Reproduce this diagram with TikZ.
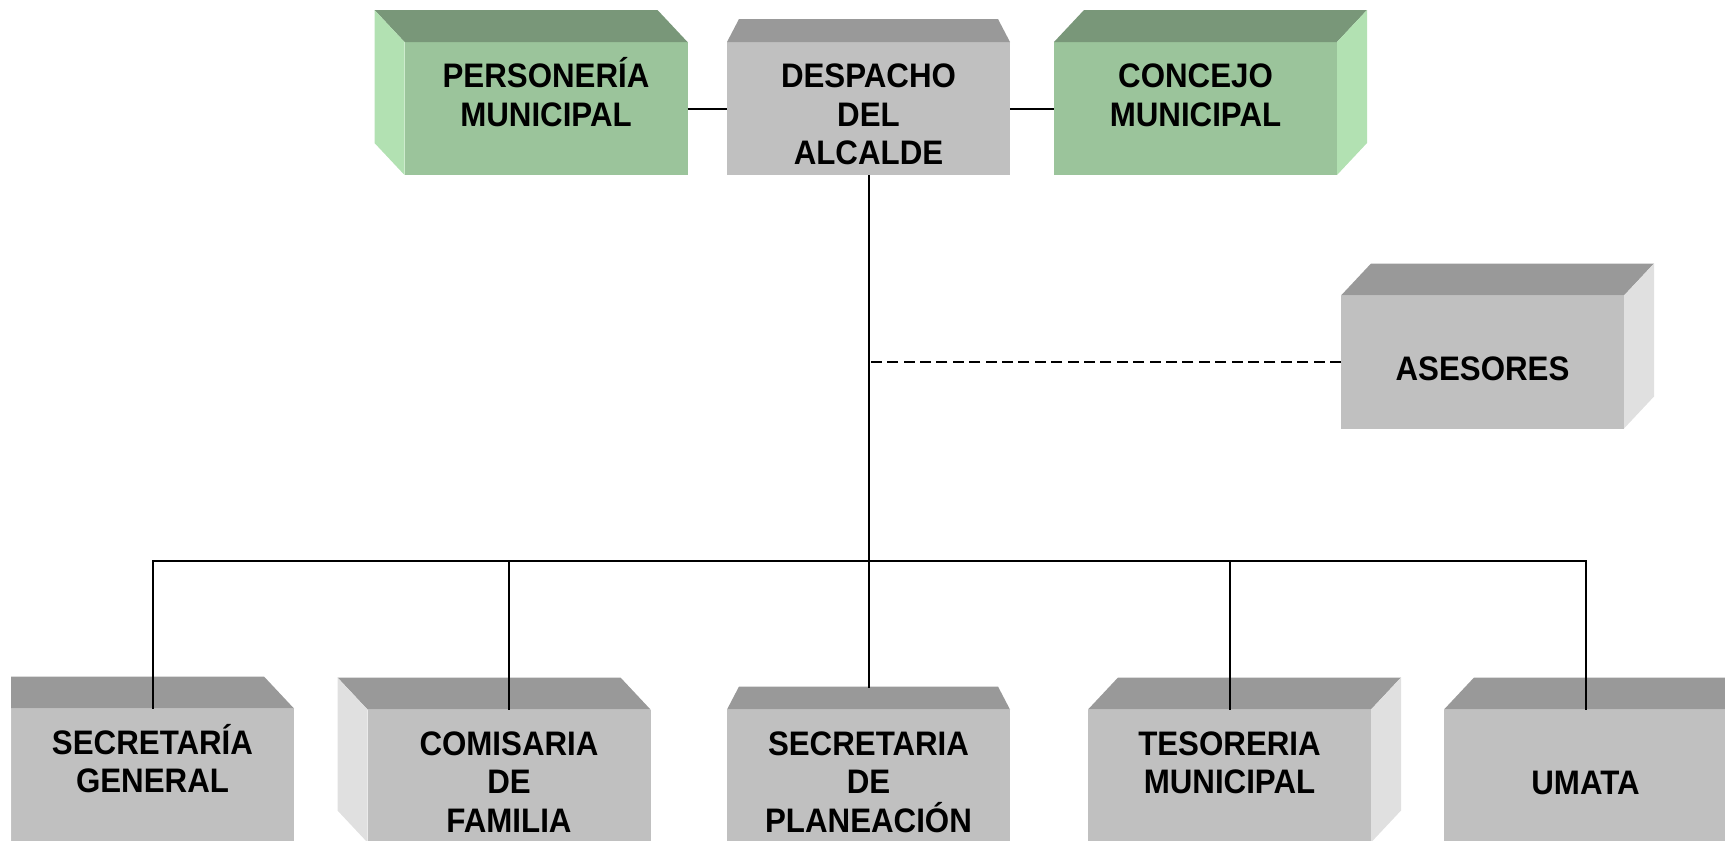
\documentclass[tikz,border=0pt]{standalone}
\usepackage{fontspec}
\setmainfont{Liberation Sans}[FakeStretch=0.92]
\usetikzlibrary{calc}

\definecolor{grfront}{RGB}{155,196,155}
\definecolor{grtop}{RGB}{121,151,121}
\definecolor{grside}{RGB}{178,225,178}
\definecolor{gyfront}{RGB}{192,192,192}
\definecolor{gytop}{RGB}{153,153,153}
\definecolor{gyside}{RGB}{224,224,224}

\tikzset{
  unit/.style={minimum width=141.5pt, minimum height=66.5pt, inner sep=0pt, outer sep=0pt,
    align=center, font=\bfseries\fontsize{17}{19.25}\selectfont, text height=56.3pt},
  single/.style={text height=18.8pt},
  green unit/.style={unit, fill=grfront},
  grey unit/.style={unit, fill=gyfront},
  link/.style={line width=1pt}
}

\begin{document}
\begin{tikzpicture}[x=0.5pt, y=-0.5pt]
\useasboundingbox (0,0) rectangle (1725,841);
\clip (11,0) rectangle (1725,841);

% top row
\node[green unit] (pm) at (546,108.5) {PERSONERÍA\\MUNICIPAL\\\mbox{}};
\node[grey unit] (da) at (868.5,108.5) {DESPACHO\\DEL\\ALCALDE};
\node[green unit] (cm) at (1195.5,108.5) {CONCEJO\\MUNICIPAL\\\mbox{}};
\node[grey unit, single] (as) at (1482.5,362) {ASESORES};

% bottom row
\node[grey unit] (sg) at (152.5,775) {SECRETARÍA\\GENERAL\\\mbox{}};
\node[grey unit] (cf) at (509,776) {COMISARIA\\DE\\FAMILIA};
\node[grey unit] (sp) at (868.5,776) {SECRETARIA\\DE\\PLANEACIÓN};
\node[grey unit] (tm) at (1229.5,776) {TESORERIA\\MUNICIPAL\\\mbox{}};
\node[grey unit, single] (um) at (1585.5,776) {UMATA};

% depth to the left
\foreach \n/\t/\s in {pm/grtop/grside, sg/gytop/gyside, cf/gytop/gyside} {
  \fill[\t] (\n.north west) -- ++(-30,-32) -- ($(\n.north east)+(-30,-32)$) -- (\n.north east) -- cycle;
  \fill[\s] (\n.north west) -- ++(-30,-32) -- ($(\n.south west)+(-30,-32)$) -- (\n.south west) -- cycle;
}
% depth to the right
\foreach \n/\t/\s in {cm/grtop/grside, as/gytop/gyside, tm/gytop/gyside, um/gytop/gyside} {
  \fill[\t] (\n.north west) -- ++(30,-32) -- ($(\n.north east)+(30,-32)$) -- (\n.north east) -- cycle;
  \fill[\s] (\n.north east) -- ++(30,-32) -- ($(\n.south east)+(30,-32)$) -- (\n.south east) -- cycle;
}
% straight on
\foreach \n in {da, sp} {
  \fill[gytop] (\n.north west) -- ++(12,-23) -- ($(\n.north east)+(-12,-23)$) -- (\n.north east) -- cycle;
}

% links
\coordinate (bus) at (868.5,561);
\draw[link] (pm.east) -- (da.west);
\draw[link] (da.east) -- (cm.west);
\draw[link] (da.south) -- ($(sp.north)+(0,-22)$);
\draw[link] (sg.north) |- (bus) -| (um.north);
\draw[link] (cf.north) -- (cf.north |- bus);
\draw[link] (tm.north) -- (tm.north |- bus);
\draw[link, line width=1.4pt, dash pattern=on 5.5pt off 2.7pt] (as.west) -- (as.west -| da.south);
\end{tikzpicture}
\end{document}
